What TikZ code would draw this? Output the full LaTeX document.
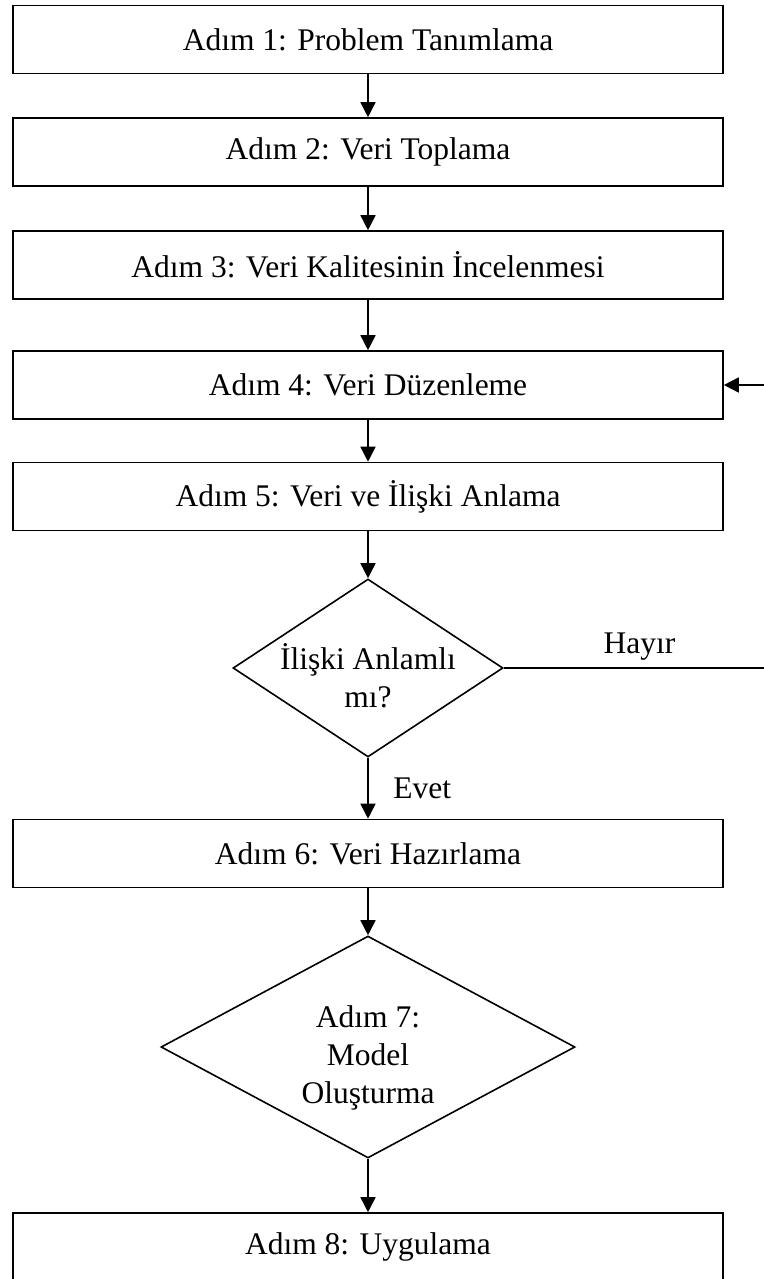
\documentclass[tikz,border=0pt]{standalone}
\usepackage{fontspec}
\setmainfont{Liberation Serif}
\usetikzlibrary{shapes.geometric}
\usetikzlibrary{arrows.meta}

\begin{document}
\begin{tikzpicture}[x=0.5pt,y=-0.5pt,line width=0.8pt,
  >={Triangle[length=7.5pt,width=7.5pt]},
  every node/.style={font=\fontsize{15.75}{19}\selectfont},
  process/.style={draw,rectangle,minimum width=355pt,minimum height=34pt,inner sep=0pt},
  decision/.style={draw,diamond,inner sep=0pt},
  txt/.style={align=center,inner sep=0pt}]
\useasboundingbox (0,0) rectangle (764,1279);
\node[process] (s1) at (368,39.5) {Adım 1: Problem Tanımlama};
\node[process] (s2) at (368,152) {Adım 2: Veri Toplama};
\node[process] (s3) at (368,265) {Adım 3: Veri Kalitesinin İncelenmesi};
\node[process] (s4) at (368,385) {Adım 4: Veri Düzenleme};
\node[process] (s5) at (368,496.5) {Adım 5: Veri ve İlişki Anlama};
\node[decision,minimum width=135pt,minimum height=89pt] (d1) at (368,668) {};
\node[txt] (d1text) at (368,676) {İlişki Anlamlı\\mı?};
\node[process] (s6) at (368,853.5) {Adım 6: Veri Hazırlama};
\node[decision,minimum width=207pt,minimum height=111pt] (d2) at (368,1047) {};
\node[txt] (d2text) at (368,1058) {Adım 7:\\Model\\Oluşturma};
\node[process] (s8) at (368,1247) {Adım 8: Uygulama};
\coordinate (back) at (775,668);
%\draw (0,0) rectangle (764,1279);
\draw[->] (s1) -- (s2);
\draw[->] (s2) -- (s3);
\draw[->] (s3) -- (s4);
\draw[->] (s4) -- (s5);
\draw[->] (s5) -- (d1);
\draw[->] (d1) -- node[right=9pt] {Evet} (s6);
\draw[->] (d1.east) -- node[above] {Hayır} (back) |- (s4.east);
\draw[->] (s6) -- (d2);
\draw[->] (d2) -- (s8);
\end{tikzpicture}
\end{document}
